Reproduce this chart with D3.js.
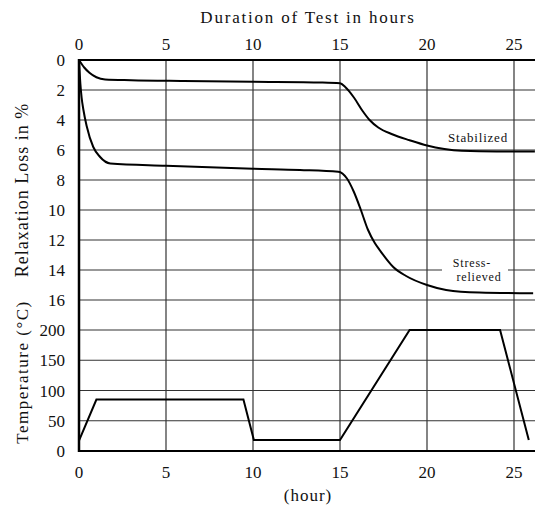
<!DOCTYPE html>
<html>
<head>
<meta charset="utf-8">
<script src="https://cdn.jsdelivr.net/npm/d3@7"></script>
<style>
  body { margin: 0; background: #fff; }
  text { font-family: "Liberation Serif", "DejaVu Serif", serif; fill: #111; }
</style>
</head>
<body>
<div id="chart"></div>
<script>
// hours
const hourTicks = [0, 5, 10, 15, 20, 25];
const lossTicks = [0, 2, 4, 6, 8, 10, 12, 14, 16];
const tempTicks = [0, 50, 100, 150, 200];

// relaxation loss (%) vs hour
const stabilized = [
  [0, 0], [0.3, 0.5], [0.6, 0.85], [1.0, 1.15], [1.5, 1.3], [3, 1.35], [6, 1.4], [10, 1.45],
  [14, 1.5], [15, 1.55], [15.3, 1.8], [15.8, 2.5], [16.3, 3.4], [16.7, 4.0], [17.2, 4.5],
  [18, 4.95], [19, 5.35], [20, 5.7], [21, 5.93], [22, 6.05], [24, 6.1], [26.2, 6.1]
];
const stressRelieved = [
  [0, 0], [0.08, 1.6], [0.15, 2.5], [0.25, 3.3], [0.44, 4.4], [0.82, 5.8], [1.2, 6.45],
  [1.8, 6.9], [5, 7.05], [10, 7.25], [12.7, 7.33], [14.9, 7.45], [15.4, 7.9], [15.8, 8.8],
  [16.2, 10.0], [16.6, 11.3], [17.0, 12.2], [17.3, 12.7], [18.06, 13.8], [18.8, 14.4],
  [20, 15.0], [21.1, 15.33], [23, 15.5], [26.1, 15.55]
];

// temperature (°C) vs hour
const temperature = [
  [0, 17], [1.0, 85], [9.45, 85], [10.05, 18], [15, 18], [19.0, 200], [24.2, 200], [25.85, 18]
];

const width = 542, height = 513;
const plot = { left: 79, right: 535, top: 60, lossBottom: 300, tempTop: 330, bottom: 451 };

const svg = d3.select("#chart").append("svg")
  .attr("width", width).attr("height", height)
  .style("background", "#fff");

const x = d3.scaleLinear().domain([0, 25]).range([plot.left, 514]);
const yLoss = d3.scaleLinear().domain([0, 16]).range([plot.top, plot.lossBottom]);
const yTemp = d3.scaleLinear().domain([0, 200]).range([plot.bottom, plot.tempTop]);

// grid
const grid = svg.append("g").attr("stroke", "#333").attr("stroke-width", 1.2);
grid.selectAll(".hl").data(lossTicks).join("line")
  .attr("x1", plot.left).attr("x2", plot.right)
  .attr("y1", d => yLoss(d)).attr("y2", d => yLoss(d));
grid.selectAll(".ht").data(tempTicks).join("line")
  .attr("x1", plot.left).attr("x2", plot.right)
  .attr("y1", d => yTemp(d)).attr("y2", d => yTemp(d));
grid.selectAll(".v").data(hourTicks.slice(1)).join("line")
  .attr("x1", d => x(d)).attr("x2", d => x(d))
  .attr("y1", plot.top).attr("y2", plot.bottom);

// frame lines (heavier)
svg.append("line").attr("x1", x(0)).attr("x2", x(0)).attr("y1", plot.top - 1).attr("y2", plot.bottom + 1)
  .attr("stroke", "#000").attr("stroke-width", 2.5);
svg.append("line").attr("x1", plot.left).attr("x2", plot.right).attr("y1", yLoss(0)).attr("y2", yLoss(0))
  .attr("stroke", "#000").attr("stroke-width", 2);
svg.append("line").attr("x1", plot.left).attr("x2", plot.right).attr("y1", yTemp(0)).attr("y2", yTemp(0))
  .attr("stroke", "#000").attr("stroke-width", 2);

// label backing for "Stress-relieved"
svg.append("rect").attr("x", 442).attr("y", 256).attr("width", 66).attr("height", 28).attr("fill", "#fff");

// curves
const lineLoss = d3.line().x(d => x(d[0])).y(d => yLoss(d[1])).curve(d3.curveMonotoneX);
const lineTemp = d3.line().x(d => x(d[0])).y(d => yTemp(d[1]));

[stabilized, stressRelieved].forEach(s => {
  svg.append("path").datum(s).attr("fill", "none").attr("stroke", "#000")
    .attr("stroke-width", 2).attr("d", lineLoss);
});
svg.append("path").datum(temperature).attr("fill", "none").attr("stroke", "#000")
  .attr("stroke-width", 2).attr("d", lineTemp);

// tick labels
const tickFont = "17px";
svg.selectAll(".tt").data(hourTicks).join("text")
  .attr("x", d => x(d)).attr("y", 50).attr("text-anchor", "middle")
  .style("font-size", tickFont).text(d => d);
svg.selectAll(".bt").data(hourTicks).join("text")
  .attr("x", d => x(d)).attr("y", 478).attr("text-anchor", "middle")
  .style("font-size", tickFont).text(d => d);
svg.selectAll(".lt").data(lossTicks).join("text")
  .attr("x", 65).attr("y", d => yLoss(d) + 6).attr("text-anchor", "end")
  .style("font-size", tickFont).text(d => d);
svg.selectAll(".tp").data(tempTicks).join("text")
  .attr("x", 65).attr("y", d => yTemp(d) + 6).attr("text-anchor", "end")
  .style("font-size", tickFont).text(d => d);

// titles
svg.append("text").attr("x", 308).attr("y", 23).attr("text-anchor", "middle")
  .style("font-size", "17px").style("letter-spacing", "1.8px")
  .text("Duration of Test in hours");
svg.append("text").attr("x", 308).attr("y", 501).attr("text-anchor", "middle")
  .style("font-size", "17px").style("letter-spacing", "1px")
  .text("(hour)");
svg.append("text").attr("transform", "translate(28,190) rotate(-90)").attr("text-anchor", "middle")
  .style("font-size", "18px").style("letter-spacing", "1px")
  .text("Relaxation Loss in %");
svg.append("text").attr("transform", "translate(28,372) rotate(-90)").attr("text-anchor", "middle")
  .style("font-size", "17px").style("letter-spacing", "1.5px")
  .text("Temperature (°C)");

// series labels
svg.append("text").attr("x", 478).attr("y", 142).attr("text-anchor", "middle")
  .style("font-size", "13px").style("letter-spacing", "0.8px").text("Stabilized");
svg.append("text").attr("x", 472).attr("y", 267).attr("text-anchor", "middle")
  .style("font-size", "12px").style("letter-spacing", "0.8px").text("Stress-");
svg.append("text").attr("x", 479).attr("y", 281).attr("text-anchor", "middle")
  .style("font-size", "12px").style("letter-spacing", "0.8px").text("relieved");
</script>
</body>
</html>
